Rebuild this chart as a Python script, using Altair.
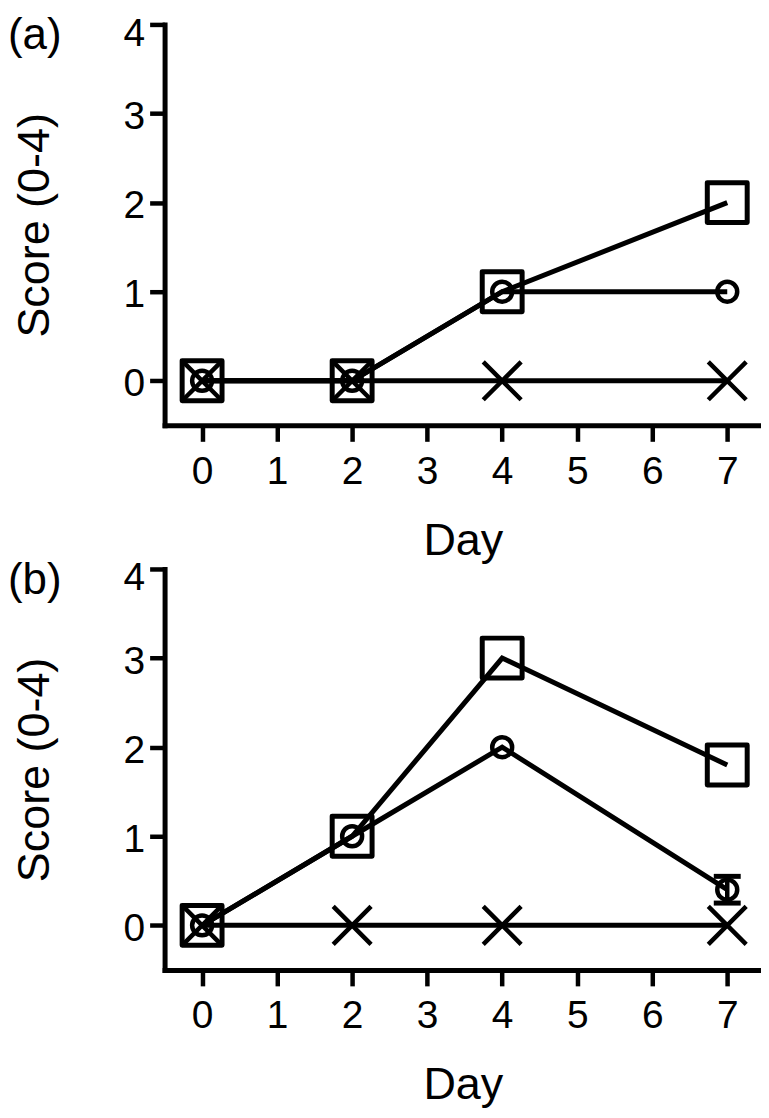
import altair as alt
import pandas as pd

# ---- data ----
days = [0, 2, 4, 7]
a_square = [0, 0, 1, 2]
a_circle = [0, 0, 1, 1]
a_cross = [0, 0, 0, 0]
b_square = [0, 1, 3, 1.8]
b_circle = [0, 1, 2, 0.4]
b_cross = [0, 0, 0, 0]
b_err_day = [7]
b_err_low = [0.25]
b_err_high = [0.55]
x_ticks = [0, 1, 2, 3, 4, 5, 6, 7]
y_ticks = [0, 1, 2, 3, 4]
panel_labels = ["(a)", "(b)"]

FONT = "Liberation Sans, Arial, Helvetica, sans-serif"
X_PATH = "M-1,-1L1,1M-1,1L1,-1"

xscale = alt.Scale(domain=[-0.5, 7.45], nice=False, zero=False)
yscale = alt.Scale(domain=[-0.5, 4], nice=False, zero=False)


def X(field):
    return alt.X(field, type="quantitative", scale=xscale, title="Day",
                 axis=alt.Axis(values=x_ticks, format="d"))


def Y(field):
    return alt.Y(field, type="quantitative", scale=yscale, title="Score (0-4)",
                 axis=alt.Axis(values=y_ticks, format="d",
                               labelOffset={"condition": {"test": "datum.value == 4", "value": 9},
                                            "value": 3}))


def panel(label, sq, ci, cr, err=None):
    df = pd.DataFrame({
        "Day": days * 3,
        "Score": sq + ci + cr,
        "series": ["square"] * len(days) + ["circle"] * len(days) + ["cross"] * len(days),
    })
    base = alt.Chart(df).encode(x=X("Day"), y=Y("Score"))
    lines = base.mark_line(color="black", strokeWidth=5).encode(detail="series:N")
    crosses = base.transform_filter(alt.datum.series == "cross").mark_point(
        shape=X_PATH, size=1444, filled=False, color="black", strokeWidth=4.5, opacity=1)
    circles = base.transform_filter(alt.datum.series == "circle").mark_point(
        shape="circle", size=400, filled=False, color="black", strokeWidth=4.5, opacity=1)
    squares = base.transform_filter(alt.datum.series == "square").mark_point(
        shape="square", size=1600, filled=False, color="black", strokeWidth=5,
        strokeJoin="round", opacity=1)
    layers = [lines]
    if err is not None:
        edf = pd.DataFrame({"Day": err[0], "lo": err[1], "hi": err[2]})
        rule = alt.Chart(edf).mark_rule(color="black", strokeWidth=4.5).encode(
            x=X("Day"), y=Y("lo"), y2="hi:Q")
        caps = alt.Chart(edf).transform_fold(["lo", "hi"]).mark_tick(
            orient="horizontal", size=27, thickness=5, color="black", opacity=1).encode(
            x=X("Day"), y=Y("value"))
        layers += [rule, caps]
    layers += [crosses, circles, squares]
    lab = alt.Chart(pd.DataFrame({"t": [label]})).mark_text(
        align="left", baseline="alphabetic", fontSize=44, font=FONT, color="black"
    ).encode(text="t:N", x=alt.value(-157), y=alt.value(25))
    layers.append(lab)
    return alt.layer(*layers).properties(width=598, height=402)


pa = panel(panel_labels[0], a_square, a_circle, a_cross)
pb = panel(panel_labels[1], b_square, b_circle, b_cross,
           err=(b_err_day, b_err_low, b_err_high))

chart = alt.vconcat(pa, pb, spacing=-4).properties(
    padding={"top": 5, "left": 0, "right": 0, "bottom": 0}
).configure_view(stroke=None).configure_axis(
    grid=False,
    domainColor="black", domainWidth=5, domainCap="square",
    tickColor="black", tickWidth=4.5,
    labelFont=FONT, labelFontSize=39, labelColor="black",
    titleFont=FONT, titleFontSize=45, titleFontWeight="normal", titleColor="black",
).configure_axisX(
    tickSize=16, labelPadding=11, titlePadding=27,
).configure_axisY(
    tickSize=15, labelPadding=5, titlePadding=66,
)

chart.save("out.html", embed_options={"renderer": "svg", "actions": False})
